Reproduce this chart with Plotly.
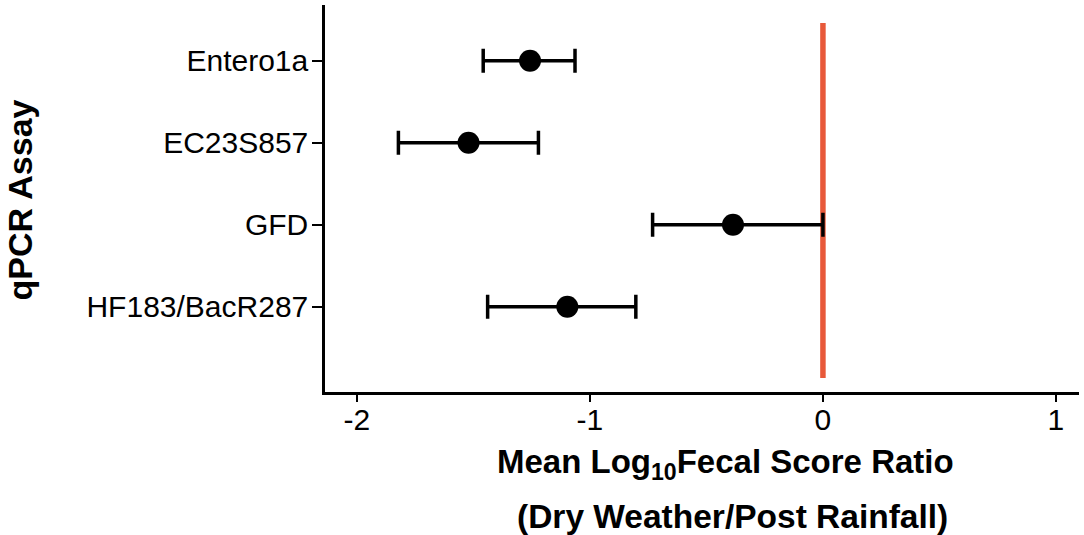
import plotly.graph_objects as go

# ---- data ----
assays = ["Entero1a", "EC23S857", "GFD", "HF183/BacR287"]
assay_pos = [4, 3, 2, 1]
mean_ratio = [-1.257, -1.521, -0.386, -1.097]
ci_low = [-1.458, -1.822, -0.731, -1.439]
ci_high = [-1.064, -1.221, 0.0, -0.803]
x_ticks = [-2, -1, 0, 1]
x_tick_labels = ["-2", "-1", "0", "1"]

err_plus = [h - m for h, m in zip(ci_high, mean_ratio)]
err_minus = [m - l for m, l in zip(mean_ratio, ci_low)]

FONT = "Liberation Sans, Arial, sans-serif"

fig = go.Figure()
fig.add_trace(go.Scatter(
    x=mean_ratio, y=assay_pos, mode="markers",
    marker=dict(size=22, color="black"),
    error_x=dict(type="data", symmetric=False, array=err_plus, arrayminus=err_minus,
                 color="black", thickness=3.5, width=12),
    showlegend=False, hoverinfo="skip",
))

# reference line at zero
fig.add_shape(type="line", xref="x", yref="y", x0=0, x1=0, y0=0.13, y1=4.46,
              line=dict(color="#E8593A", width=5.5), layer="below")

fig.update_xaxes(
    range=[-2.137, 1.099], tickvals=x_ticks, ticktext=x_tick_labels,
    showline=True, linecolor="black", linewidth=2.5,
    ticks="outside", ticklen=7, tickwidth=2, tickcolor="black",
    showgrid=False, zeroline=False, ticklabelstandoff=-8,
    tickfont=dict(family=FONT, size=30, color="black"),
)
fig.update_yaxes(
    range=[-0.04, 4.68], tickvals=assay_pos, ticktext=assays,
    showline=True, linecolor="black", linewidth=2.5,
    ticks="outside", ticklen=10, tickwidth=2, tickcolor="black",
    showgrid=False, zeroline=False, ticklabelstandoff=-2,
    tickfont=dict(family=FONT, size=30, color="black"),
)

title_font = dict(family=FONT, size=33, color="black")
fig.add_annotation(text="<b>Mean Log<sub>10</sub>Fecal Score Ratio</b>",
                   xref="paper", yref="paper", x=0.531, y=-0.186,
                   xanchor="center", yanchor="middle", showarrow=False, font=title_font)
fig.add_annotation(text="<b>(Dry Weather/Post Rainfall)</b>",
                   xref="paper", yref="paper", x=0.540, y=-0.322,
                   xanchor="center", yanchor="middle", showarrow=False,
                   font=dict(family=FONT, size=33.5, color="black"))
fig.add_annotation(text="<b>qPCR Assay</b>", textangle=-90,
                   xref="paper", yref="paper", x=-0.404, y=0.496,
                   xanchor="center", yanchor="middle", showarrow=False,
                   font=dict(family=FONT, size=34, color="black"))

fig.update_layout(
    width=1084, height=535,
    margin=dict(l=325, r=5, t=5, b=143),
    plot_bgcolor="white", paper_bgcolor="white",
)

fig.write_html("out.html", config={"displayModeBar": False},
               post_script="document.body.style.margin='0px';")
